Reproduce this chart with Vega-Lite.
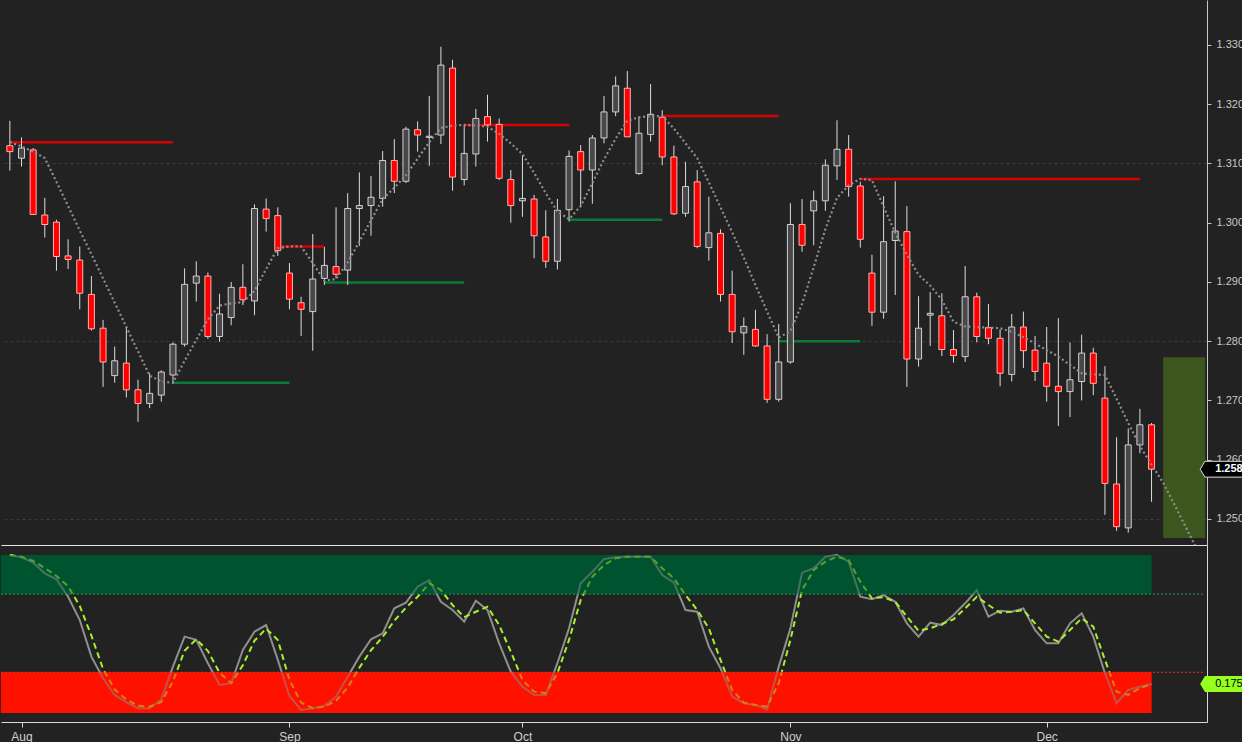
{
  "$schema": "https://vega.github.io/schema/vega-lite/v6.json",
  "background": "#222222",
  "padding": 0,
  "spacing": 0,
  "config": {
    "view": {"stroke": null},
    "font": "Liberation Sans",
    "axis": {"labelFont": "Liberation Sans", "titleFont": "Liberation Sans", "grid": false}
  },
  "datasets": {
    "days": [
      {"d":"2018-07-31","o":1.3130,"h":1.3172,"l":1.3088,"c":1.3120,"k":1.0,"s":1.0},
      {"d":"2018-08-01","o":1.3109,"h":1.3144,"l":1.3095,"c":1.3126,"k":0.985,"s":0.989},
      {"d":"2018-08-02","o":1.3123,"h":1.3126,"l":1.3013,"c":1.3014,"k":0.951,"s":0.962},
      {"d":"2018-08-03","o":1.3013,"h":1.3042,"l":1.2975,"c":1.2997,"k":0.883,"s":0.917},
      {"d":"2018-08-06","o":1.3001,"h":1.3005,"l":1.2919,"c":1.2943,"k":0.845,"s":0.866},
      {"d":"2018-08-07","o":1.2944,"h":1.2972,"l":1.2922,"c":1.2938,"k":0.733,"s":0.800},
      {"d":"2018-08-08","o":1.2937,"h":1.2960,"l":1.2854,"c":1.2881,"k":0.584,"s":0.674},
      {"d":"2018-08-09","o":1.2879,"h":1.2910,"l":1.2818,"c":1.2821,"k":0.350,"s":0.484},
      {"d":"2018-08-10","o":1.2822,"h":1.2836,"l":1.2723,"c":1.2765,"k":0.212,"s":0.271},
      {"d":"2018-08-13","o":1.2742,"h":1.2791,"l":1.2730,"c":1.2767,"k":0.105,"s":0.139},
      {"d":"2018-08-14","o":1.2763,"h":1.2825,"l":1.2705,"c":1.2718,"k":0.058,"s":0.075},
      {"d":"2018-08-15","o":1.2718,"h":1.2735,"l":1.2664,"c":1.2695,"k":0.020,"s":0.036},
      {"d":"2018-08-16","o":1.2695,"h":1.2746,"l":1.2687,"c":1.2712,"k":0.020,"s":0.030},
      {"d":"2018-08-17","o":1.2709,"h":1.2751,"l":1.2698,"c":1.2748,"k":0.077,"s":0.060},
      {"d":"2018-08-20","o":1.2743,"h":1.2798,"l":1.2729,"c":1.2795,"k":0.286,"s":0.192},
      {"d":"2018-08-21","o":1.2795,"h":1.2923,"l":1.2791,"c":1.2896,"k":0.478,"s":0.388},
      {"d":"2018-08-22","o":1.2898,"h":1.2935,"l":1.2867,"c":1.2910,"k":0.457,"s":0.461},
      {"d":"2018-08-23","o":1.2910,"h":1.2916,"l":1.2804,"c":1.2808,"k":0.308,"s":0.386},
      {"d":"2018-08-24","o":1.2808,"h":1.2880,"l":1.2799,"c":1.2846,"k":0.169,"s":0.247},
      {"d":"2018-08-27","o":1.2840,"h":1.2900,"l":1.2827,"c":1.2891,"k":0.180,"s":0.180},
      {"d":"2018-08-28","o":1.2891,"h":1.2930,"l":1.2861,"c":1.2870,"k":0.393,"s":0.295},
      {"d":"2018-08-29","o":1.2868,"h":1.3031,"l":1.2844,"c":1.3024,"k":0.510,"s":0.452},
      {"d":"2018-08-30","o":1.3023,"h":1.3041,"l":1.2985,"c":1.3007,"k":0.552,"s":0.529},
      {"d":"2018-08-31","o":1.3012,"h":1.3026,"l":1.2944,"c":1.2953,"k":0.329,"s":0.457},
      {"d":"2018-09-03","o":1.2915,"h":1.2932,"l":1.2854,"c":1.2871,"k":0.098,"s":0.201},
      {"d":"2018-09-04","o":1.2865,"h":1.2875,"l":1.2809,"c":1.2854,"k":0.009,"s":0.056},
      {"d":"2018-09-05","o":1.2850,"h":1.2981,"l":1.2784,"c":1.2905,"k":0.020,"s":0.020},
      {"d":"2018-09-06","o":1.2906,"h":1.2959,"l":1.2895,"c":1.2928,"k":0.035,"s":0.030},
      {"d":"2018-09-07","o":1.2926,"h":1.3026,"l":1.2906,"c":1.2913,"k":0.094,"s":0.068},
      {"d":"2018-09-10","o":1.2920,"h":1.3050,"l":1.2895,"c":1.3024,"k":0.222,"s":0.152},
      {"d":"2018-09-11","o":1.3024,"h":1.3085,"l":1.2961,"c":1.3029,"k":0.350,"s":0.279},
      {"d":"2018-09-12","o":1.3029,"h":1.3079,"l":1.2978,"c":1.3043,"k":0.461,"s":0.391},
      {"d":"2018-09-13","o":1.3041,"h":1.3121,"l":1.3027,"c":1.3105,"k":0.499,"s":0.476},
      {"d":"2018-09-14","o":1.3105,"h":1.3141,"l":1.3050,"c":1.3070,"k":0.659,"s":0.580},
      {"d":"2018-09-17","o":1.3070,"h":1.3162,"l":1.3067,"c":1.3158,"k":0.695,"s":0.663},
      {"d":"2018-09-18","o":1.3157,"h":1.3171,"l":1.3120,"c":1.3148,"k":0.797,"s":0.733},
      {"d":"2018-09-19","o":1.3144,"h":1.3214,"l":1.3096,"c":1.3146,"k":0.840,"s":0.819},
      {"d":"2018-09-20","o":1.3148,"h":1.3297,"l":1.3133,"c":1.3266,"k":0.701,"s":0.776},
      {"d":"2018-09-21","o":1.3261,"h":1.3275,"l":1.3054,"c":1.3077,"k":0.648,"s":0.680},
      {"d":"2018-09-24","o":1.3073,"h":1.3165,"l":1.3063,"c":1.3117,"k":0.574,"s":0.602},
      {"d":"2018-09-25","o":1.3116,"h":1.3192,"l":1.3095,"c":1.3176,"k":0.708,"s":0.637},
      {"d":"2018-09-26","o":1.3179,"h":1.3216,"l":1.3137,"c":1.3165,"k":0.648,"s":0.669},
      {"d":"2018-09-27","o":1.3166,"h":1.3176,"l":1.3072,"c":1.3075,"k":0.435,"s":0.552},
      {"d":"2018-09-28","o":1.3073,"h":1.3089,"l":1.3000,"c":1.3029,"k":0.254,"s":0.382},
      {"d":"2018-10-01","o":1.3037,"h":1.3114,"l":1.3010,"c":1.3041,"k":0.158,"s":0.201},
      {"d":"2018-10-02","o":1.3040,"h":1.3047,"l":1.2940,"c":1.2978,"k":0.105,"s":0.126},
      {"d":"2018-10-03","o":1.2976,"h":1.3021,"l":1.2924,"c":1.2935,"k":0.105,"s":0.116},
      {"d":"2018-10-04","o":1.2935,"h":1.3040,"l":1.2921,"c":1.3021,"k":0.308,"s":0.244},
      {"d":"2018-10-05","o":1.3022,"h":1.3122,"l":1.3002,"c":1.3112,"k":0.531,"s":0.457},
      {"d":"2018-10-08","o":1.3120,"h":1.3131,"l":1.3027,"c":1.3089,"k":0.819,"s":0.712},
      {"d":"2018-10-09","o":1.3089,"h":1.3148,"l":1.3032,"c":1.3143,"k":0.893,"s":0.861},
      {"d":"2018-10-10","o":1.3143,"h":1.3214,"l":1.3134,"c":1.3187,"k":0.974,"s":0.936},
      {"d":"2018-10-11","o":1.3187,"h":1.3247,"l":1.3180,"c":1.3231,"k":0.985,"s":0.979},
      {"d":"2018-10-12","o":1.3227,"h":1.3256,"l":1.3145,"c":1.3145,"k":0.989,"s":0.989},
      {"d":"2018-10-15","o":1.3083,"h":1.3179,"l":1.3081,"c":1.3151,"k":0.989,"s":0.989},
      {"d":"2018-10-16","o":1.3149,"h":1.3234,"l":1.3137,"c":1.3183,"k":0.989,"s":0.989},
      {"d":"2018-10-17","o":1.3178,"h":1.3190,"l":1.3097,"c":1.3111,"k":0.872,"s":0.915},
      {"d":"2018-10-18","o":1.3111,"h":1.3130,"l":1.3013,"c":1.3015,"k":0.823,"s":0.851},
      {"d":"2018-10-19","o":1.3016,"h":1.3103,"l":1.3010,"c":1.3061,"k":0.648,"s":0.744},
      {"d":"2018-10-22","o":1.3069,"h":1.3089,"l":1.2957,"c":1.2960,"k":0.637,"s":0.648},
      {"d":"2018-10-23","o":1.2958,"h":1.3044,"l":1.2936,"c":1.2983,"k":0.414,"s":0.531},
      {"d":"2018-10-24","o":1.2982,"h":1.2989,"l":1.2867,"c":1.2879,"k":0.276,"s":0.329},
      {"d":"2018-10-25","o":1.2879,"h":1.2919,"l":1.2797,"c":1.2816,"k":0.094,"s":0.137},
      {"d":"2018-10-26","o":1.2814,"h":1.2840,"l":1.2777,"c":1.2825,"k":0.052,"s":0.056},
      {"d":"2018-10-29","o":1.2820,"h":1.2853,"l":1.2791,"c":1.2792,"k":0.041,"s":0.041},
      {"d":"2018-10-30","o":1.2792,"h":1.2812,"l":1.2696,"c":1.2702,"k":0.013,"s":0.030},
      {"d":"2018-10-31","o":1.2702,"h":1.2829,"l":1.2698,"c":1.2765,"k":0.286,"s":0.180},
      {"d":"2018-11-01","o":1.2765,"h":1.3033,"l":1.2762,"c":1.2997,"k":0.531,"s":0.457},
      {"d":"2018-11-02","o":1.2997,"h":1.3040,"l":1.2951,"c":1.2962,"k":0.887,"s":0.776},
      {"d":"2018-11-05","o":1.3020,"h":1.3054,"l":1.2962,"c":1.3037,"k":0.915,"s":0.904},
      {"d":"2018-11-06","o":1.3037,"h":1.3107,"l":1.3020,"c":1.3097,"k":0.989,"s":0.957},
      {"d":"2018-11-07","o":1.3096,"h":1.3173,"l":1.3072,"c":1.3124,"k":1.0,"s":0.989},
      {"d":"2018-11-08","o":1.3124,"h":1.3148,"l":1.3044,"c":1.3061,"k":0.957,"s":0.968},
      {"d":"2018-11-09","o":1.3062,"h":1.3069,"l":1.2958,"c":1.2972,"k":0.733,"s":0.829},
      {"d":"2018-11-12","o":1.2915,"h":1.2946,"l":1.2826,"c":1.2849,"k":0.717,"s":0.723},
      {"d":"2018-11-13","o":1.2849,"h":1.3045,"l":1.2838,"c":1.2968,"k":0.744,"s":0.730},
      {"d":"2018-11-14","o":1.2970,"h":1.3070,"l":1.2878,"c":1.2986,"k":0.701,"s":0.701},
      {"d":"2018-11-15","o":1.2985,"h":1.3028,"l":1.2723,"c":1.2770,"k":0.563,"s":0.606},
      {"d":"2018-11-16","o":1.2770,"h":1.2876,"l":1.2757,"c":1.2822,"k":0.478,"s":0.516},
      {"d":"2018-11-19","o":1.2844,"h":1.2883,"l":1.2792,"c":1.2847,"k":0.567,"s":0.531},
      {"d":"2018-11-20","o":1.2843,"h":1.2881,"l":1.2775,"c":1.2786,"k":0.552,"s":0.559},
      {"d":"2018-11-21","o":1.2786,"h":1.2819,"l":1.2764,"c":1.2776,"k":0.616,"s":0.589},
      {"d":"2018-11-22","o":1.2774,"h":1.2927,"l":1.2765,"c":1.2875,"k":0.691,"s":0.659},
      {"d":"2018-11-23","o":1.2875,"h":1.2882,"l":1.2798,"c":1.2808,"k":0.776,"s":0.733},
      {"d":"2018-11-26","o":1.2823,"h":1.2863,"l":1.2795,"c":1.2805,"k":0.606,"s":0.680},
      {"d":"2018-11-27","o":1.2805,"h":1.2820,"l":1.2724,"c":1.2746,"k":0.644,"s":0.631},
      {"d":"2018-11-28","o":1.2744,"h":1.2846,"l":1.2732,"c":1.2824,"k":0.637,"s":0.637},
      {"d":"2018-11-29","o":1.2824,"h":1.2850,"l":1.2755,"c":1.2784,"k":0.659,"s":0.648},
      {"d":"2018-11-30","o":1.2785,"h":1.2809,"l":1.2733,"c":1.2749,"k":0.520,"s":0.563},
      {"d":"2018-12-03","o":1.2763,"h":1.2824,"l":1.2698,"c":1.2724,"k":0.435,"s":0.478},
      {"d":"2018-12-04","o":1.2724,"h":1.2839,"l":1.2657,"c":1.2715,"k":0.435,"s":0.446},
      {"d":"2018-12-05","o":1.2715,"h":1.2798,"l":1.2672,"c":1.2735,"k":0.563,"s":0.520},
      {"d":"2018-12-06","o":1.2732,"h":1.2811,"l":1.2700,"c":1.2780,"k":0.627,"s":0.595},
      {"d":"2018-12-07","o":1.2780,"h":1.2789,"l":1.2709,"c":1.2729,"k":0.478,"s":0.542},
      {"d":"2018-12-10","o":1.2704,"h":1.2758,"l":1.2507,"c":1.2560,"k":0.244,"s":0.329},
      {"d":"2018-12-11","o":1.2559,"h":1.2638,"l":1.2480,"c":1.2487,"k":0.052,"s":0.126},
      {"d":"2018-12-12","o":1.2485,"h":1.2653,"l":1.2477,"c":1.2625,"k":0.137,"s":0.105},
      {"d":"2018-12-13","o":1.2625,"h":1.2686,"l":1.2611,"c":1.2659,"k":0.158,"s":0.148},
      {"d":"2018-12-14","o":1.2659,"h":1.2662,"l":1.2529,"c":1.2584,"k":0.175,"s":0.175}
    ],
    "trail": [
      {"d":"2018-07-31","t":1.3136},{"d":"2018-08-01","t":1.3129},{"d":"2018-08-02","t":1.3120},{"d":"2018-08-03","t":1.3109},
      {"d":"2018-08-06","t":1.3069},{"d":"2018-08-07","t":1.3028},{"d":"2018-08-08","t":1.2987},{"d":"2018-08-09","t":1.2947},
      {"d":"2018-08-10","t":1.2906},{"d":"2018-08-13","t":1.2865},{"d":"2018-08-14","t":1.2824},{"d":"2018-08-15","t":1.2783},
      {"d":"2018-08-16","t":1.2742},{"d":"2018-08-17","t":1.2732},{"d":"2018-08-20","t":1.2730},{"d":"2018-08-21","t":1.2767},
      {"d":"2018-08-22","t":1.2802},{"d":"2018-08-23","t":1.2837},{"d":"2018-08-24","t":1.2860},{"d":"2018-08-27","t":1.2864},
      {"d":"2018-08-28","t":1.2866},{"d":"2018-08-29","t":1.2885},{"d":"2018-08-30","t":1.2922},{"d":"2018-08-31","t":1.2957},
      {"d":"2018-09-03","t":1.2960},{"d":"2018-09-04","t":1.2960},{"d":"2018-09-05","t":1.2932},{"d":"2018-09-06","t":1.2902},
      {"d":"2018-09-07","t":1.2905},{"d":"2018-09-10","t":1.2933},{"d":"2018-09-11","t":1.2968},{"d":"2018-09-12","t":1.3004},
      {"d":"2018-09-13","t":1.3040},{"d":"2018-09-14","t":1.3059},{"d":"2018-09-17","t":1.3080},{"d":"2018-09-18","t":1.3108},
      {"d":"2018-09-19","t":1.3136},{"d":"2018-09-20","t":1.3160},{"d":"2018-09-21","t":1.3164},{"d":"2018-09-24","t":1.3165},
      {"d":"2018-09-25","t":1.3164},{"d":"2018-09-26","t":1.3162},{"d":"2018-09-27","t":1.3150},{"d":"2018-09-28","t":1.3134},
      {"d":"2018-10-01","t":1.3116},{"d":"2018-10-02","t":1.3084},{"d":"2018-10-03","t":1.3050},{"d":"2018-10-04","t":1.3019},
      {"d":"2018-10-05","t":1.3006},{"d":"2018-10-08","t":1.3028},{"d":"2018-10-09","t":1.3067},{"d":"2018-10-10","t":1.3107},
      {"d":"2018-10-11","t":1.3142},{"d":"2018-10-12","t":1.3172},{"d":"2018-10-15","t":1.3178},{"d":"2018-10-16","t":1.3180},
      {"d":"2018-10-17","t":1.3180},{"d":"2018-10-18","t":1.3159},{"d":"2018-10-19","t":1.3134},{"d":"2018-10-22","t":1.3109},
      {"d":"2018-10-23","t":1.3068},{"d":"2018-10-24","t":1.3026},{"d":"2018-10-25","t":1.2984},{"d":"2018-10-26","t":1.2941},
      {"d":"2018-10-29","t":1.2895},{"d":"2018-10-30","t":1.2850},{"d":"2018-10-31","t":1.2806},{"d":"2018-11-01","t":1.2817},
      {"d":"2018-11-02","t":1.2863},{"d":"2018-11-05","t":1.2925},{"d":"2018-11-06","t":1.2989},{"d":"2018-11-07","t":1.3042},
      {"d":"2018-11-08","t":1.3063},{"d":"2018-11-09","t":1.3074},{"d":"2018-11-12","t":1.3072},{"d":"2018-11-13","t":1.3027},
      {"d":"2018-11-14","t":1.2983},{"d":"2018-11-15","t":1.2946},{"d":"2018-11-16","t":1.2912},{"d":"2018-11-19","t":1.2894},
      {"d":"2018-11-20","t":1.2870},{"d":"2018-11-21","t":1.2833},{"d":"2018-11-22","t":1.2825},{"d":"2018-11-23","t":1.2824},
      {"d":"2018-11-26","t":1.2823},{"d":"2018-11-27","t":1.2822},{"d":"2018-11-28","t":1.2816},{"d":"2018-11-29","t":1.2807},
      {"d":"2018-11-30","t":1.2796},{"d":"2018-12-03","t":1.2785},{"d":"2018-12-04","t":1.2774},{"d":"2018-12-05","t":1.2760},
      {"d":"2018-12-06","t":1.2746},{"d":"2018-12-07","t":1.2744},{"d":"2018-12-10","t":1.2743},{"d":"2018-12-11","t":1.2703},
      {"d":"2018-12-12","t":1.2662},{"d":"2018-12-13","t":1.2623},{"d":"2018-12-14","t":1.2592},{"d":"2018-12-17","t":1.2561},
      {"d":"2018-12-18","t":1.2523},{"d":"2018-12-19","t":1.2484},{"d":"2018-12-20","t":1.2445}
    ],
    "levels": [
      {"d":"2018-07-31","d2":"2018-08-20","p":1.3136,"kind":"res"},
      {"d":"2018-08-20","d2":"2018-09-03","p":1.2730,"kind":"sup"},
      {"d":"2018-08-31","d2":"2018-09-06","p":1.2960,"kind":"res"},
      {"d":"2018-09-06","d2":"2018-09-24","p":1.2899,"kind":"sup"},
      {"d":"2018-09-24","d2":"2018-10-05","p":1.3165,"kind":"res"},
      {"d":"2018-10-05","d2":"2018-10-17","p":1.3005,"kind":"sup"},
      {"d":"2018-10-17","d2":"2018-10-31","p":1.3180,"kind":"res"},
      {"d":"2018-10-31","d2":"2018-11-09","p":1.2800,"kind":"sup"},
      {"d":"2018-11-09","d2":"2018-12-13","p":1.3074,"kind":"res"}
    ],
    "target": [{"d":"2018-12-17","d2":"2018-12-20","lo":1.2468,"hi":1.2773}],
    "priceTag": [{"d":"2018-12-20","p":1.2584,"t":"1.258"}],
    "zones": [
      {"d":"2018-07-31","d2":"2018-12-14","lo":0.75,"hi":1.0,"kind":"ob"},
      {"d":"2018-07-31","d2":"2018-12-14","lo":-0.01,"hi":0.25,"kind":"os"}
    ],
    "bounds": [
      {"d":"2018-07-31","d2":"2018-12-20","v":0.75,"kind":"ob"},
      {"d":"2018-07-31","d2":"2018-12-20","v":0.25,"kind":"os"}
    ],
    "oscTag": [{"d":"2018-12-20","v":0.175,"t":"0.175"}]
  },
  "resolve": {"scale": {"x": "shared"}},
  "vconcat": [
    {
      "width": 1206,
      "height": 545,
      "encoding": {
        "x": {
          "field": "d", "type": "ordinal", "title": null,
          "scale": {"type": "point", "padding": 0.76},
          "axis": {"labels": false, "ticks": false, "domainColor": "#e4e4e4", "domainWidth": 1}
        }
      },
      "layer": [
        {
          "data": {"name": "target"},
          "mark": {"type": "rect", "color": "#3d561e", "x2Offset": 7},
          "encoding": {
            "x2": {"field": "d2"},
            "y": {"field": "lo", "type": "quantitative", "title": null, "scale": {"domain": [1.24561, 1.33759], "nice": false, "zero": false},
              "axis": {
                "orient": "right", "values": [1.25, 1.26, 1.27, 1.28, 1.29, 1.30, 1.31, 1.32, 1.33], "format": ".3f",
                "labelColor": "#c8c8c8", "labelFontSize": 11, "labelPadding": 5,
                "tickColor": "#c8c8c8", "tickSize": 4, "domainColor": "#c8c8c8",
                "grid": true, "gridDash": [3, 3], "gridColor": "#3a3a3a",
                "gridOpacity": {"condition": {"test": "abs(datum.value - 1.25) < 0.0001 || abs(datum.value - 1.28) < 0.0001 || abs(datum.value - 1.31) < 0.0001", "value": 1}, "value": 0}
              }
            },
            "y2": {"field": "hi"}
          }
        },
        {
          "data": {"name": "levels"},
          "mark": {"type": "rule", "strokeWidth": 2.5},
          "encoding": {
            "x2": {"field": "d2"},
            "y": {"field": "p", "type": "quantitative", "title": null, "scale": {"domain": [1.24561, 1.33759], "nice": false, "zero": false}},
            "color": {"condition": {"test": "datum.kind === 'res'", "value": "#d90000"}, "value": "#0b7b3b"}
          }
        },
        {
          "data": {"name": "days"},
          "mark": {"type": "rule", "color": "#dcdcdc", "strokeWidth": 1},
          "encoding": {
            "y": {"field": "l", "type": "quantitative", "title": null, "scale": {"domain": [1.24561, 1.33759], "nice": false, "zero": false}},
            "y2": {"field": "h"}
          }
        },
        {
          "data": {"name": "days"},
          "mark": {"type": "bar", "size": 6, "strokeWidth": 1},
          "encoding": {
            "y": {"field": "o", "type": "quantitative", "title": null, "scale": {"domain": [1.24561, 1.33759], "nice": false, "zero": false}},
            "y2": {"field": "c"},
            "fill": {"condition": {"test": "datum.c < datum.o", "value": "#ff0000"}, "value": "#4a474a"},
            "stroke": {"condition": {"test": "datum.c < datum.o", "value": "#ffb0b0"}, "value": "#d0d0d0"}
          }
        },
        {
          "data": {"name": "trail"},
          "mark": {"type": "line", "color": "#8e8e8e", "strokeWidth": 2.2, "strokeDash": [2, 2.6], "clip": true},
          "encoding": {
            "y": {"field": "t", "type": "quantitative", "title": null, "scale": {"domain": [1.24561, 1.33759], "nice": false, "zero": false}}
          }
        },
        {
          "data": {"name": "priceTag"},
          "mark": {"type": "point", "shape": "M-1,0L-0.78,-0.36L1,-0.36L1,0.36L-0.78,0.36Z", "size": 1936, "filled": true, "fill": "#000000", "stroke": "#e0e0e0", "strokeWidth": 1, "opacity": 1, "xOffset": 24},
          "encoding": {
            "y": {"field": "p", "type": "quantitative", "title": null, "scale": {"domain": [1.24561, 1.33759], "nice": false, "zero": false}}
          }
        },
        {
          "data": {"name": "priceTag"},
          "mark": {"type": "text", "align": "left", "baseline": "middle", "xOffset": 17, "fontSize": 11, "fontWeight": "bold", "color": "#ffffff"},
          "encoding": {
            "y": {"field": "p", "type": "quantitative", "title": null, "scale": {"domain": [1.24561, 1.33759], "nice": false, "zero": false}},
            "text": {"field": "t"}
          }
        }
      ]
    },
    {
      "width": 1206,
      "height": 177,
      "encoding": {
        "x": {
          "field": "d", "type": "ordinal", "title": null,
          "scale": {"type": "point", "padding": 0.76},
          "axis": {
            "values": ["2018-08-01", "2018-09-03", "2018-10-01", "2018-11-01", "2018-12-03"],
            "labelExpr": "timeFormat(toDate(datum.value + 'T12:00:00'), '%b')",
            "labelAngle": 0, "labelColor": "#cfcfcf", "labelFontSize": 12, "labelPadding": 4,
            "tickColor": "#d8d8d8", "tickSize": 5, "domainColor": "#d8d8d8"
          }
        }
      },
      "layer": [
        {
          "data": {"name": "zones"},
          "mark": {"type": "rect", "xOffset": -9},
          "encoding": {
            "x2": {"field": "d2"},
            "y": {"field": "lo", "type": "quantitative", "title": null, "scale": {"domain": [-0.068, 1.064], "nice": false, "zero": false},
              "axis": {"orient": "right", "labels": false, "ticks": false, "domainColor": "#d8d8d8", "grid": false}},
            "y2": {"field": "hi"},
            "fill": {"condition": {"test": "datum.kind === 'ob'", "value": "#00532f"}, "value": "#ff1100"}
          }
        },
        {
          "data": {"name": "days"},
          "mark": {"type": "line", "color": "#8f8f8f", "strokeWidth": 2},
          "encoding": {
            "y": {"field": "k", "type": "quantitative", "title": null, "scale": {"domain": [-0.068, 1.064], "nice": false, "zero": false}}
          }
        },
        {
          "data": {"name": "days"},
          "mark": {"type": "line", "color": "#a6f02c", "strokeWidth": 2, "strokeDash": [6, 4]},
          "encoding": {
            "y": {"field": "s", "type": "quantitative", "title": null, "scale": {"domain": [-0.068, 1.064], "nice": false, "zero": false}}
          }
        },
        {
          "data": {"name": "zones"},
          "mark": {"type": "rect", "xOffset": -9, "opacity": 0.5},
          "encoding": {
            "x2": {"field": "d2"},
            "y": {"field": "lo", "type": "quantitative", "title": null, "scale": {"domain": [-0.068, 1.064], "nice": false, "zero": false}},
            "y2": {"field": "hi"},
            "fill": {"condition": {"test": "datum.kind === 'ob'", "value": "#00532f"}, "value": "#ff1100"}
          }
        },
        {
          "data": {"name": "bounds"},
          "mark": {"type": "rule", "strokeWidth": 1, "strokeDash": [2, 2], "xOffset": -9, "x2Offset": 6},
          "encoding": {
            "x2": {"field": "d2"},
            "y": {"field": "v", "type": "quantitative", "title": null, "scale": {"domain": [-0.068, 1.064], "nice": false, "zero": false}},
            "color": {"condition": {"test": "datum.kind === 'ob'", "value": "#2a9a5a"}, "value": "#ff2a2a"}
          }
        },
        {
          "data": {"name": "oscTag"},
          "mark": {"type": "point", "shape": "M-1,0L-0.78,-0.36L1,-0.36L1,0.36L-0.78,0.36Z", "size": 1936, "filled": true, "fill": "#96ff1e", "strokeWidth": 0, "opacity": 1, "xOffset": 24},
          "encoding": {
            "y": {"field": "v", "type": "quantitative", "title": null, "scale": {"domain": [-0.068, 1.064], "nice": false, "zero": false}}
          }
        },
        {
          "data": {"name": "oscTag"},
          "mark": {"type": "text", "align": "left", "baseline": "middle", "xOffset": 17, "fontSize": 11, "color": "#000000"},
          "encoding": {
            "y": {"field": "v", "type": "quantitative", "title": null, "scale": {"domain": [-0.068, 1.064], "nice": false, "zero": false}},
            "text": {"field": "t"}
          }
        }
      ]
    }
  ]
}
